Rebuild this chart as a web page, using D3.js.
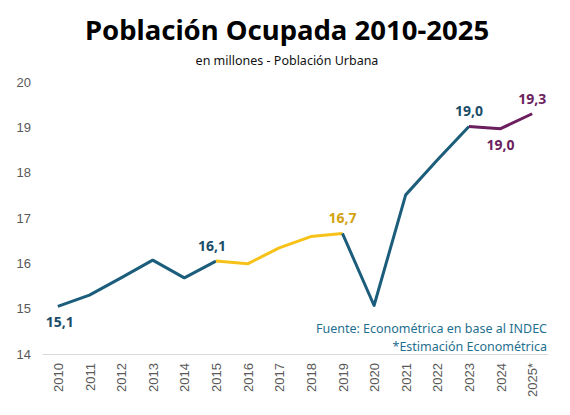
<!DOCTYPE html>
<html>
<head>
<meta charset="utf-8">
<script src="https://cdn.jsdelivr.net/npm/d3@7"></script>
<style>
  body { margin: 0; background: #fff; }
  svg { font-family: "Noto Sans", sans-serif; display: block; }
</style>
</head>
<body>
<div id="chart"></div>
<script>
// data
const years = ["2010","2011","2012","2013","2014","2015","2016","2017","2018","2019","2020","2021","2022","2023","2024","2025*"];
const ocupados = [15.05, 15.3, 15.68, 16.07, 15.68, 16.05, 15.99, 16.34, 16.59, 16.66, 15.07, 17.51, 18.28, 19.02, 18.97, 19.3];
const yTicks = [14, 15, 16, 17, 18, 19, 20];
// colored stretches, given as [first index, last index]
const segments = [
    { from: 0, to: 5, color: "#1b5d7b" },
    { from: 5, to: 9, color: "#f6c21a" },
    { from: 9, to: 13, color: "#1b5d7b" },
    { from: 13, to: 15, color: "#6c1f5e" }
];
const labels = [
    { i: 0, text: "15,1", pos: "below", color: "#1b4d68" },
    { i: 5, text: "16,1", pos: "above", color: "#1b4d68" },
    { i: 9, text: "16,7", pos: "above", color: "#d3a213" },
    { i: 13, text: "19,0", pos: "above", color: "#1b4d68" },
    { i: 14, text: "19,0", pos: "below", color: "#6c1f5e" },
    { i: 15, text: "19,3", pos: "above", color: "#6c1f5e" }
];

const width = 570, height = 415;

const svg = d3.select("#chart").append("svg")
    .attr("width", width)
    .attr("height", height);

const x = d3.scalePoint()
    .domain(years)
    .range([42, 548])
    .padding(0.5);

const y = d3.scaleLinear()
    .domain([14, 20])
    .range([354, 82]);

// title
svg.append("text")
    .attr("x", 287).attr("y", 40)
    .attr("text-anchor", "middle")
    .style("font-size", "27.5px")
    .style("font-weight", "bold")
    .style("fill", "#000")
    .text("Población Ocupada 2010-2025");

svg.append("text")
    .attr("x", 287).attr("y", 65)
    .attr("text-anchor", "middle")
    .style("font-size", "12.5px")
    .style("fill", "#111")
    .text("en millones - Población Urbana");

// y axis (labels only)
const yAxis = svg.append("g")
    .attr("transform", "translate(31,0)")
    .call(d3.axisLeft(y).tickValues(yTicks).tickFormat(d3.format("d")).tickSize(0).tickPadding(0));
yAxis.select(".domain").remove();
yAxis.selectAll("text")
    .style("font-family", "Liberation Sans, sans-serif")
    .style("font-size", "13px")
    .style("fill", "#595959");

// x axis
const xAxis = svg.append("g")
    .attr("transform", "translate(0,354)")
    .call(d3.axisBottom(x).tickSize(0).tickPadding(0));
xAxis.select(".domain").attr("stroke", "#d9d9d9").attr("stroke-width", 1.2);
xAxis.selectAll("text")
    .attr("transform", "rotate(-90)")
    .attr("text-anchor", "end")
    .attr("x", -9)
    .attr("y", 0)
    .attr("dy", "0.35em")
    .style("font-family", "Liberation Sans, sans-serif")
    .style("font-size", "13px")
    .style("fill", "#595959");

// lines
const line = d3.line()
    .x(d => x(years[d]))
    .y(d => y(ocupados[d]));

svg.selectAll("path.seg")
    .data(segments)
    .join("path")
    .attr("class", "seg")
    .attr("fill", "none")
    .attr("stroke", d => d.color)
    .attr("stroke-width", 3)
    .attr("stroke-linejoin", "round")
    .attr("d", d => line(d3.range(d.from, d.to + 1)));

// data labels
svg.selectAll("text.lbl")
    .data(labels)
    .join("text")
    .attr("class", "lbl")
    .attr("x", d => x(years[d.i]) + (d.i === 0 ? 2 : d.i === 5 ? -4 : 0))
    .attr("y", d => y(ocupados[d.i]) + (d.pos === "above" ? -10 : 21))
    .attr("text-anchor", "middle")
    .style("font-size", "14px")
    .style("font-weight", "bold")
    .style("fill", d => d.color)
    .text(d => d.text);

// source note
const note = svg.append("text")
    .attr("text-anchor", "end")
    .style("font-size", "12.5px")
    .style("fill", "#1f6f8f");
note.append("tspan").attr("x", 547).attr("y", 333).text("Fuente: Econométrica en base al INDEC");
note.append("tspan").attr("x", 547).attr("y", 351).text("*Estimación Econométrica");
</script>
</body>
</html>
